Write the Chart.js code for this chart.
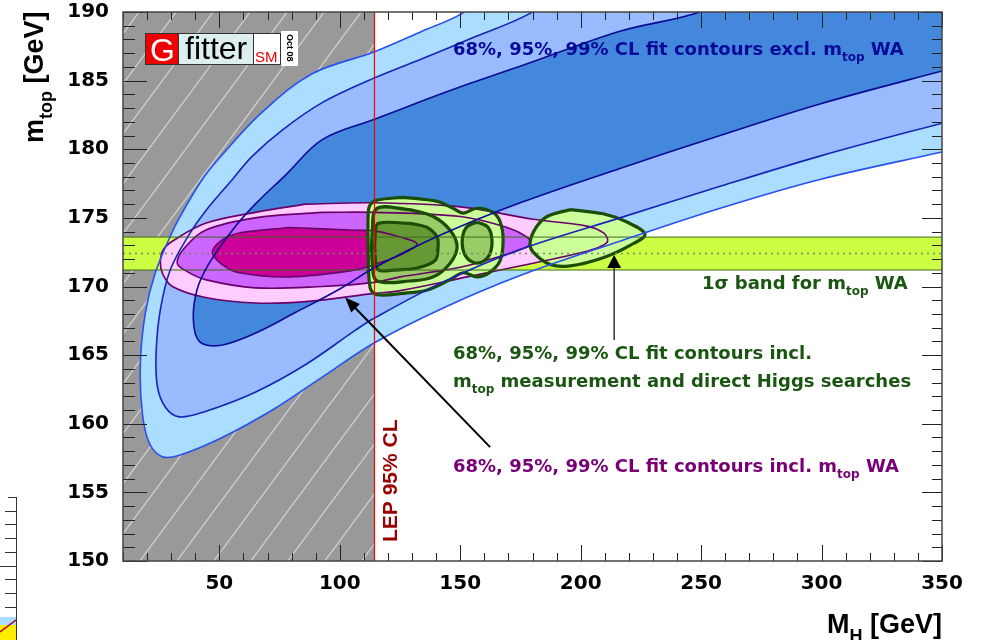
<!DOCTYPE html>
<html>
<head>
<meta charset="utf-8">
<script src="https://cdn.jsdelivr.net/npm/chart.js"></script>
<style>
  html, body { margin: 0; padding: 0; background: #fff; overflow: hidden; }
  canvas { display: block; }
</style>
</head>
<body>
<canvas id="c" width="981" height="640"></canvas>
<script>
/* ===== axes ===== */
const xRange = [10, 350];
const yRange = [150, 190];
const xTickLabels = [50, 100, 150, 200, 250, 300, 350];
const yTickLabels = [150, 155, 160, 165, 170, 175, 180, 185, 190];

/* ===== reference values ===== */
const lepLimit = 114.4;          // LEP 95% CL
const mtopWA = 172.4;            // world average
const mtopErr = 1.2;

/* ===== fit contours excl. mtop WA  [MH, mtop] ===== */
const blue99 = [[162.4,191.6],[150.8,189.9],[134.2,188.6],[114.4,187.1],[88.5,185.5],[67.8,182.7],[51.2,179.6],[42.9,177.8],[34.7,175.4],[30.5,174.0],[23.4,171.0],[19.3,168.1],[17.2,164.4],[18.0,160.8],[20.9,158.6],[26.3,157.6],[33.4,157.7],[51.2,159.0],[72.0,161.0],[92.7,163.4],[114.4,165.9],[142.5,168.4],[174.9,170.8],[216.3,173.3],[257.9,175.7],[299.3,177.8],[350,179.8],[370,180.6],[370,192]];
const blue95 = [[191.5,191.6],[179.0,189.9],[154.9,188.1],[134.2,186.6],[114.4,185.2],[92.7,183.4],[76.1,181.4],[63.7,179.5],[55.4,177.8],[43.8,175.4],[37.5,173.8],[29.6,171.2],[25.5,168.3],[23.8,165.4],[24.2,162.8],[27.6,161.2],[33.4,160.5],[44.2,160.9],[64.9,162.3],[85.7,164.3],[106.4,166.8],[114.4,167.7],[142.5,170.3],[174.9,172.7],[216.3,175.0],[257.9,177.3],[299.3,179.5],[350,181.9],[370,182.8],[370,192]];
const blue68 = [[266.1,191.6],[249.5,190.0],[216.3,188.6],[175.7,186.1],[154.2,184.8],[135.5,183.6],[114.7,182.2],[92.7,180.7],[77.4,178.1],[64.9,176.0],[55.4,174.1],[45.8,171.7],[40.8,169.8],[39.2,167.6],[41.7,166.0],[50.0,165.7],[64.9,166.6],[81.5,168.1],[99.8,169.8],[114.7,171.4],[142.5,173.8],[174.9,176.1],[216.3,178.6],[257.9,181.0],[299.3,183.3],[350,185.7],[370,186.6],[370,192]];

/* ===== fit contours incl. mtop WA ===== */
const mag99 = [[85.7,176.0],[114.4,176.1],[150.0,175.8],[180.3,174.9],[202.6,174.4],[209.5,173.9],[211.2,173.3],[208.0,172.9],[200.9,172.5],[180.3,171.7],[152.9,170.7],[125.1,169.7],[114.4,169.5],[85.7,168.9],[64.9,168.8],[44.2,169.2],[30.5,170.0],[26.5,170.9],[25.5,171.8],[26.8,172.7],[30.5,173.3],[44.2,174.6],[64.9,175.4]];
const mag95 = [[92.7,175.4],[114.4,175.4],[150.0,175.1],[169.5,174.3],[177.8,173.6],[179.0,173.2],[177.8,172.9],[166.6,172.2],[150.0,171.4],[125.1,170.7],[114.4,170.3],[92.7,170.0],[64.9,169.9],[44.2,170.5],[36.5,171.1],[32.5,171.7],[35.5,172.8],[44.2,174.1],[64.9,175.0]];
const mag68 = [[79.0,174.3],[106.4,174.1],[114.4,174.05],[125.1,173.6],[132.1,173.1],[125.1,172.3],[114.4,171.6],[106.4,171.2],[79.0,170.7],[58.3,171.0],[51.2,171.6],[47.1,172.5],[51.2,173.4],[58.3,173.9]];

/* ===== fit contours incl. mtop and direct Higgs searches ===== */
const green99a = [[126.3,176.5],[140.4,176.2],[147.0,175.7],[151.2,175.35],[157.0,175.7],[163.6,175.4],[166.6,174.7],[167.8,173.4],[166.6,171.9],[162.4,171.05],[157.0,170.7],[151.2,171.0],[145.8,170.5],[136.3,169.75],[126.3,169.5],[115.5,169.4],[112.6,169.9],[111.8,172.9],[111.8,175.35],[112.6,175.95],[115.5,176.3]];
const green99b = [[195.6,175.6],[209.3,175.3],[219.2,174.7],[226.7,173.8],[220.5,173.0],[209.3,172.1],[195.6,171.5],[187.3,171.6],[180.3,172.5],[179.0,173.2],[181.5,174.3],[186.1,175.1]];
const green95a = [[129.2,175.6],[138.8,175.1],[145.8,174.1],[148.7,172.9],[145.8,171.7],[138.8,170.7],[129.2,170.4],[115.5,170.4],[113.5,171.6],[113.5,174.1],[115.5,175.7]];
const green95b = [[157.0,174.7],[161.6,174.3],[163.2,173.25],[161.6,172.15],[157.0,171.7],[152.5,172.15],[150.8,173.25],[152.5,174.3]];
const green68 = [[129.2,174.6],[136.3,174.3],[140.4,173.6],[140.8,172.9],[139.6,171.9],[132.1,171.35],[122.2,171.2],[116.0,171.2],[114.7,172.1],[114.7,173.8],[116.0,174.6]];

/* ===== arrows (from, tip) ===== */
const arrowWA = [[162.4,158.3],[102.2,169.2]];
const arrowHiggs = [[213.9,166.1],[213.9,172.3]];

const FONT = '"Liberation Sans", Arial, Helvetica, sans-serif';
const WIDE = '"DejaVu Sans", Verdana, sans-serif';

/* ===== hatch pattern for the LEP-excluded region ===== */
function makeHatch () {
  const cv = document.createElement('canvas');
  const w = 37, h = 50;
  cv.width = w; cv.height = h;
  const g = cv.getContext('2d');
  g.fillStyle = '#999999';
  g.fillRect(0, 0, w, h);
  g.strokeStyle = '#d2d2d2';
  g.lineWidth = 1.3;
  for (const dx of [-w, 0, w]) {
    g.beginPath(); g.moveTo(dx, h); g.lineTo(dx + w, 0); g.stroke();
  }
  return g.createPattern(cv, 'repeat');
}

/* ===== datasets, bottom layer first ===== */
const toPts  = a => a.map(([x, y]) => ({x, y}));
const closed = a => toPts([...a, a[0]]);
const layers = [];

function addFill (a, color, tension = 0.35) {
  layers.push({ data: closed(a), fill: 'shape', backgroundColor: color,
                borderColor: 'rgba(0,0,0,0)', borderWidth: 0, tension });
}
function addLine (data, color, width, dash = [], tension = 0.35) {
  layers.push({ data, fill: false, borderColor: color, borderWidth: width,
                borderDash: dash, tension });
}

const hatch = [[xRange[0], yRange[0]], [lepLimit, yRange[0]], [lepLimit, yRange[1]], [xRange[0], yRange[1]]];
const band  = [[xRange[0], mtopWA - mtopErr], [xRange[1], mtopWA - mtopErr],
               [xRange[1], mtopWA + mtopErr], [xRange[0], mtopWA + mtopErr]];

addFill(hatch, makeHatch(), 0);
addFill(blue99, '#aaddff');
addFill(blue95, '#99bbff');
addFill(blue68, '#4488dd');
addFill(band, '#ccff44', 0);
addFill(mag99, '#ffccff');
addFill(mag95, '#cc66ff');
addFill(mag68, '#cc0099');
addFill(green99a, '#ccff99');
addFill(green99b, '#ccff99');
addFill(green95a, '#99cc66');
addFill(green95b, '#99cc66');
addFill(green68, '#669933');

[mag99, mag95, mag68].forEach(a => addLine(closed(a), '#6a006a', 1.6));
[green99a, green99b, green95a, green95b, green68].forEach(a => addLine(closed(a), '#1b4d05', 3.2));
addLine(toPts([band[0], band[1]]), '#3d6b1a', 1, [], 0);
addLine(toPts([band[3], band[2]]), '#3d6b1a', 1, [], 0);
addLine(toPts([[xRange[0], mtopWA], [xRange[1], mtopWA]]), '#6f8f5a', 1.5, [2, 4], 0);
addLine(toPts(blue99), '#2a4ff0', 1.6);
addLine(toPts(blue95), '#1525b5', 1.6);
addLine(toPts(blue68), '#0a0a96', 1.6);
addLine(toPts([[lepLimit, yRange[0]], [lepLimit, yRange[1]]]), '#ff0000', 1.2, [], 0);

const datasets = layers.map((d, i) => Object.assign(d, {
  order: layers.length - i, clip: 0, pointRadius: 0, pointHoverRadius: 0
}));

/* ===== helpers for text ===== */
function richText (c, x, y, parts, size, color, family, measureOnly) {
  let w = 0;
  for (const [t, sub] of parts) {
    const fs = sub ? Math.round(size * 0.68) : size;
    c.font = `bold ${fs}px ${family}`;
    if (!measureOnly) {
      c.fillStyle = color;
      c.fillText(t, x + w, y + (sub ? size * 0.32 : 0));
    }
    w += c.measureText(t).width;
  }
  return w;
}

function arrow (c, x0, y0, x1, y1, L, W) {
  const a = Math.atan2(y1 - y0, x1 - x0);
  const cs = Math.cos(a), sn = Math.sin(a);
  c.beginPath(); c.moveTo(x0, y0); c.lineTo(x1 - L * 0.7 * cs, y1 - L * 0.7 * sn); c.stroke();
  c.beginPath();
  c.moveTo(x1, y1);
  c.lineTo(x1 - L * cs + W * sn, y1 - L * sn - W * cs);
  c.lineTo(x1 - L * cs - W * sn, y1 - L * sn + W * cs);
  c.closePath(); c.fill();
}

/* ===== frame and inner ticks ===== */
const framePlugin = {
  id: 'frame',
  afterDatasetsDraw (chart) {
    const { ctx: c, chartArea: a, scales: { x, y } } = chart;
    c.save();
    c.strokeStyle = '#222';
    c.lineWidth = 1;
    for (let v = xRange[0]; v <= xRange[1]; v += 10) {
      const px = Math.round(x.getPixelForValue(v)) + 0.5;
      const len = v % 50 === 0 ? 16 : 8;
      c.beginPath();
      c.moveTo(px, a.bottom); c.lineTo(px, a.bottom - len);
      c.moveTo(px, a.top);    c.lineTo(px, a.top + len);
      c.stroke();
    }
    for (let v = yRange[0]; v <= yRange[1]; v += 1) {
      const py = Math.round(y.getPixelForValue(v)) + 0.5;
      const major = v % 5 === 0;
      c.beginPath();
      c.moveTo(a.left, py);  c.lineTo(a.left + (major ? 24 : 12), py);
      c.moveTo(a.right, py); c.lineTo(a.right - (major ? 20 : 10), py);
      c.stroke();
    }
    c.strokeStyle = '#444';
    c.lineWidth = 1.5;
    c.strokeRect(a.left, a.top, a.right - a.left, a.bottom - a.top);
    c.restore();
  }
};

/* ===== labels, arrows, logo ===== */
const notePlugin = {
  id: 'notes',
  afterDraw (chart) {
    const { ctx: c, scales: { x, y } } = chart;
    const P = ([mx, my]) => [x.getPixelForValue(mx), y.getPixelForValue(my)];
    c.save();
    c.textAlign = 'left';
    c.textBaseline = 'alphabetic';

    // arrows
    c.strokeStyle = '#000'; c.fillStyle = '#000'; c.lineWidth = 2;
    arrow(c, ...P(arrowWA[0]), ...P(arrowWA[1]), 15, 6);
    c.strokeStyle = '#333'; c.lineWidth = 1.5;
    arrow(c, ...P(arrowHiggs[0]), ...P(arrowHiggs[1]), 13, 7);

    // contour captions
    richText(c, 453, 55, [['68%, 95%, 99% CL fit contours excl. m'], ['top', 1], [' WA']], 18, '#0a0a99', WIDE);
    richText(c, 702, 289, [['1\u03c3 band for m'], ['top', 1], [' WA']], 18, '#1a5511', WIDE);
    richText(c, 453, 359, [['68%, 95%, 99% CL fit contours incl.']], 18, '#1a5511', WIDE);
    richText(c, 453, 387, [['m'], ['top', 1], [' measurement and direct Higgs searches']], 18, '#1a5511', WIDE);
    richText(c, 453, 472, [['68%, 95%, 99% CL fit contours incl. m'], ['top', 1], [' WA']], 18, '#770077', WIDE);

    // LEP label
    c.save();
    c.translate(397, 542);
    c.rotate(-Math.PI / 2);
    c.font = `bold 21px ${FONT}`;
    c.fillStyle = '#990000';
    c.fillText('LEP 95% CL', 0, 0);
    c.restore();

    // axis titles
    const xt = [['M'], ['H', 1], [' [GeV]']];
    const wx = richText(c, 0, 0, xt, 27, '#000', FONT, true);
    richText(c, 942 - wx, 633, xt, 27, '#000', FONT);
    c.save();
    c.translate(43, 143);
    c.rotate(-Math.PI / 2);
    richText(c, 0, 0, [['m'], ['top', 1], [' [GeV]']], 27, '#000', FONT);
    c.restore();

    // Gfitter logo
    c.lineWidth = 1;
    c.strokeStyle = '#333';
    c.fillStyle = '#ee0000'; c.fillRect(145, 33, 33, 32);
    c.fillStyle = '#ddeeef'; c.fillRect(178, 33, 75, 32);
    c.fillStyle = '#ffffff'; c.fillRect(253, 33, 28, 32);
    c.fillRect(281, 31, 17, 35);
    c.strokeRect(145.5, 33.5, 135, 31);
    c.beginPath();
    c.moveTo(178.5, 33); c.lineTo(178.5, 65);
    c.moveTo(253.5, 33); c.lineTo(253.5, 65);
    c.stroke();
    c.font = `32px ${FONT}`;
    c.fillStyle = '#fff'; c.fillText('G', 150, 61);
    c.fillStyle = '#000'; c.fillText('fitter', 185, 59);
    c.font = `15px ${FONT}`;
    c.fillStyle = '#ee0000'; c.fillText('SM', 255, 62);
    c.save();
    c.translate(285, 34);
    c.rotate(Math.PI / 2);
    c.font = `bold 9px ${FONT}`;
    c.fillStyle = '#000';
    c.fillText('Oct 08', 0, -2);
    c.restore();

    // edge of the neighbouring figure
    c.strokeStyle = '#333'; c.lineWidth = 1;
    c.beginPath();
    c.moveTo(16.5, 497); c.lineTo(16.5, 640);
    c.moveTo(8, 497.5); c.lineTo(17, 497.5);
    for (let i = 1; i <= 8; i++) {
      const yy = Math.round(497 + i * 13.7) + 0.5;
      c.moveTo(i === 5 ? 0 : 5, yy); c.lineTo(16, yy);
    }
    c.stroke();
    c.fillStyle = '#aaddff'; c.fillRect(0, 617, 16, 10);
    c.fillStyle = '#ffee00'; c.fillRect(0, 625, 16, 15);
    c.strokeStyle = '#aa0000'; c.lineWidth = 1.5;
    c.beginPath(); c.moveTo(0, 632); c.lineTo(16, 620); c.stroke();
    c.restore();
  }
};

/* ===== chart ===== */
const tickFont = { family: WIDE, size: 20, weight: 'bold', lineHeight: 1 };

new Chart(document.getElementById('c'), {
  type: 'line',
  data: { datasets },
  options: {
    responsive: false,
    animation: false,
    devicePixelRatio: 1,
    events: [],
    layout: { padding: { top: 12, right: 39, left: 0, bottom: 0 } },
    elements: {
      point: { radius: 0, hoverRadius: 0 },
      line: { capBezierPoints: false }
    },
    plugins: { legend: { display: false }, tooltip: { enabled: false } },
    scales: {
      x: {
        type: 'linear', min: xRange[0], max: xRange[1],
        grid: { display: false, drawTicks: false }, border: { display: false },
        afterBuildTicks: s => { s.ticks = xTickLabels.map(v => ({ value: v })); },
        afterFit: s => { s.height = 79; s.paddingLeft = 0; s.paddingRight = 0; },
        ticks: { color: '#000', padding: 13, maxRotation: 0, autoSkip: false, font: tickFont }
      },
      y: {
        type: 'linear', min: yRange[0], max: yRange[1],
        grid: { display: false, drawTicks: false }, border: { display: false },
        afterBuildTicks: s => { s.ticks = yTickLabels.map(v => ({ value: v })); },
        afterFit: s => { s.width = 123; s.paddingTop = 0; s.paddingBottom = 0; },
        ticks: { color: '#000', padding: 14, autoSkip: false, font: tickFont }
      }
    }
  },
  plugins: [framePlugin, notePlugin]
});
</script>
</body>
</html>
